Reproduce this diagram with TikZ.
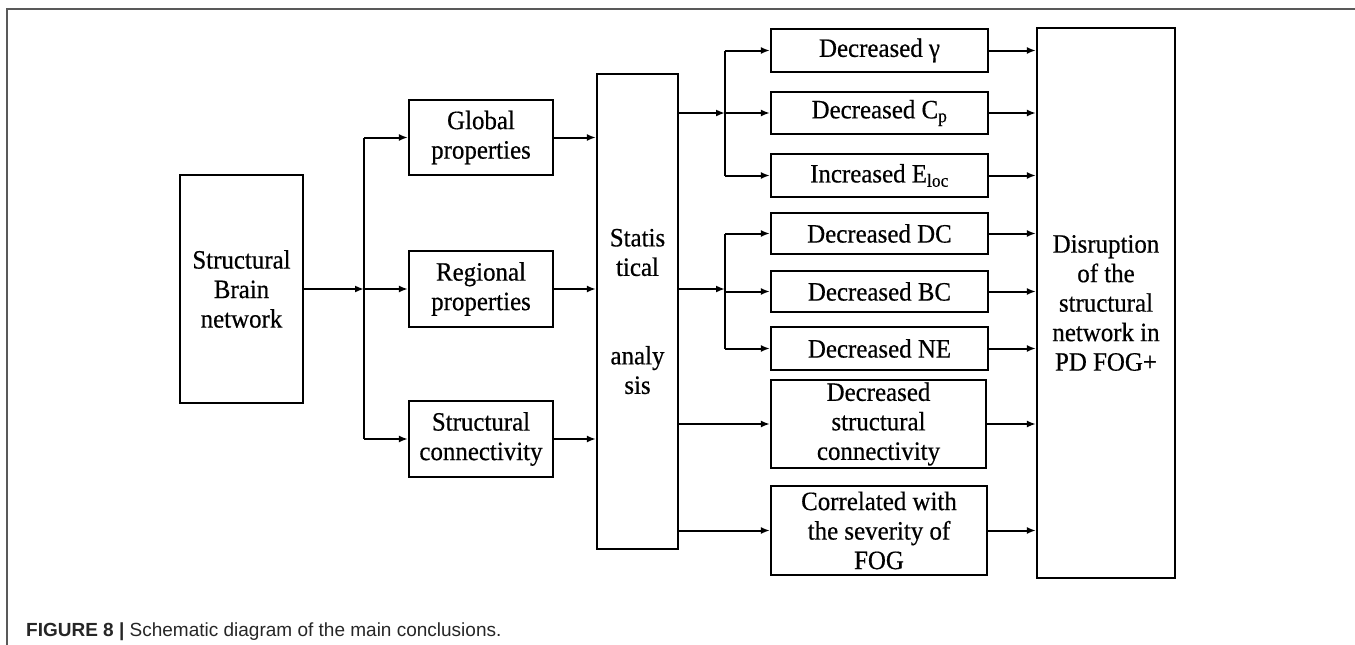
\documentclass[tikz,border=0pt]{standalone}
\usepackage{fontspec}
\setmainfont{Liberation Serif}
\newfontfamily\boxfont[FakeStretch=0.94,FakeBold=0.5]{Liberation Serif}
\newfontfamily\capfont{Liberation Sans}
\usetikzlibrary{arrows.meta}
\tikzset{
  box/.style={draw=black, line width=2.2pt, inner sep=0pt, align=center,
    font=\boxfont\fontsize{26.5}{29.5}\selectfont},
  arr/.style={line width=2pt, -{Latex[length=9pt,width=7pt]}},
  ln/.style={line width=2pt},
  frameline/.style={draw=black!65, line width=1.5pt}
}
\begin{document}
\begin{tikzpicture}[x=1pt,y=-1pt]
\useasboundingbox (0,0) rectangle (1355,645);
% frame
\draw[frameline] (7,645) -- (7,9) -- (1355,9);
% nodes
\node[box, minimum width=123pt, minimum height=228pt] (brain) at (241.5,289) {Structural\\Brain\\network};
\node[box, minimum width=144pt, minimum height=75pt] (glob) at (481,137.5) {Global\\properties};
\node[box, minimum width=144pt, minimum height=76pt] (reg) at (481,289) {Regional\\properties};
\node[box, minimum width=144pt, minimum height=76pt] (sconn) at (481,439) {Structural\\connectivity};
\node[box, minimum width=81pt, minimum height=475pt] (stat) at (637.5,311.5) {Statis\\tical\\\mbox{}\\\mbox{}\\analy\\sis};
\node[box, minimum width=217pt, minimum height=43pt] (gam) at (879.5,50.5) {Decreased γ};
\node[box, minimum width=217pt, minimum height=42pt] (cp) at (879.5,113) {Decreased C\textsubscript{p}};
\node[box, minimum width=217pt, minimum height=43pt] (eloc) at (879.5,175.5) {Increased E\textsubscript{loc}};
\node[box, minimum width=217pt, minimum height=41pt] (dc) at (879.5,233.5) {Decreased DC};
\node[box, minimum width=217pt, minimum height=41pt] (bc) at (879.5,291.5) {Decreased BC};
\node[box, minimum width=217pt, minimum height=43pt] (ne) at (879.5,348.5) {Decreased NE};
\node[box, minimum width=215pt, minimum height=88pt] (dsc) at (878.5,424) {Decreased\\structural\\connectivity};
\node[box, minimum width=216pt, minimum height=89pt] (corr) at (879,530.5) {Correlated with\\the severity of\\FOG};
\node[box, minimum width=138pt, minimum height=550pt] (disr) at (1106,303) {Disruption\\of the\\structural\\network in\\PD FOG+};
% junctions
\coordinate (j1) at (364,289);
\coordinate (j2) at (725,113);
\coordinate (j3) at (725,289);
% left stage
\draw[arr] (brain.east |- j1) -- (j1);
\draw[ln] (j1 |- glob.west) -- (j1 |- sconn.west);
\draw[arr] (j1 |- glob.west) -- (glob.west);
\draw[arr] (j1) -- (reg.west);
\draw[arr] (j1 |- sconn.west) -- (sconn.west);
\draw[arr] (glob.east) -- (glob.east -| stat.west);
\draw[arr] (reg.east) -- (reg.east -| stat.west);
\draw[arr] (sconn.east) -- (sconn.east -| stat.west);
% middle stage
\draw[arr] (stat.east |- j2) -- (j2);
\draw[ln] (j2 |- gam.west) -- (j2 |- eloc.west);
\draw[arr] (j2 |- gam.west) -- (gam.west);
\draw[arr] (j2) -- (cp.west);
\draw[arr] (j2 |- eloc.west) -- (eloc.west);
\draw[arr] (stat.east |- j3) -- (j3);
\draw[ln] (j3 |- dc.west) -- (j3 |- ne.west);
\draw[arr] (j3 |- dc.west) -- (dc.west);
\draw[arr] (j3 |- bc.west) -- (bc.west);
\draw[arr] (j3 |- ne.west) -- (ne.west);
\draw[arr] (stat.east |- dsc.west) -- (dsc.west);
\draw[arr] (stat.east |- corr.west) -- (corr.west);
% right stage
\foreach \n in {gam,cp,eloc,dc,bc,ne,dsc,corr}{
  \draw[arr] (\n.east) -- (\n.east -| disr.west);
}
% caption
\node[anchor=base west, inner sep=0pt, text=black!85, font=\capfont\fontsize{19}{21}\selectfont] (cap) at (26,636) {\textbf{FIGURE 8 |} Schematic diagram of the main conclusions.};
\end{tikzpicture}
\end{document}
